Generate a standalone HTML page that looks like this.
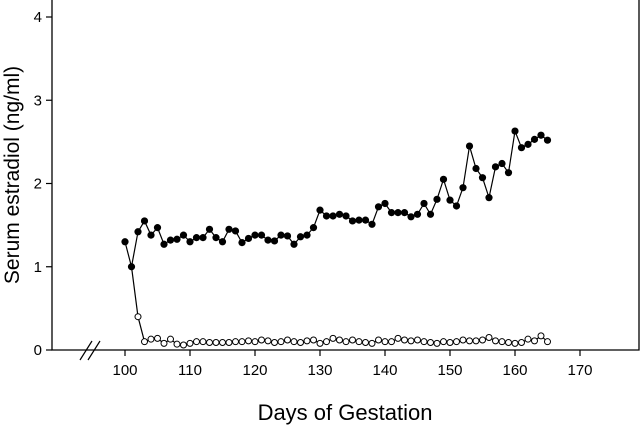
<!DOCTYPE html>
<html><head><meta charset="utf-8"><style>
body{margin:0;background:#fff}
svg{display:block;font-family:"Liberation Sans",Arial,sans-serif}
</style></head><body>
<svg id="chart" width="640" height="426" viewBox="0 0 640 426">
<g id="axes"></g>
<g id="series"></g>
<text x="345" y="420" font-size="22" text-anchor="middle">Days of Gestation</text>
<text transform="translate(19,175) rotate(-90)" font-size="21" text-anchor="middle">Serum estradiol (ng/ml)</text>
</svg>
<script>
const filledDays = [100,101,102,103,104,105,106,107,108,109,110,111,112,113,114,115,116,117,118,119,120,121,122,123,124,125,126,127,128,129,130,131,132,133,134,135,136,137,138,139,140,141,142,143,144,145,146,147,148,149,150,151,152,153,154,155,156,157,158,159,160,161,162,163,164,165];
const filledValues = [1.30,1.00,1.42,1.55,1.38,1.47,1.27,1.32,1.33,1.38,1.30,1.35,1.35,1.45,1.35,1.30,1.45,1.43,1.29,1.34,1.38,1.38,1.32,1.31,1.38,1.37,1.27,1.36,1.38,1.47,1.68,1.61,1.61,1.63,1.61,1.55,1.56,1.56,1.51,1.72,1.76,1.65,1.65,1.65,1.60,1.63,1.76,1.63,1.81,2.05,1.80,1.73,1.95,2.45,2.18,2.07,1.83,2.20,2.24,2.13,2.63,2.43,2.47,2.53,2.58,2.52];
const openDays = [102,103,104,105,106,107,108,109,110,111,112,113,114,115,116,117,118,119,120,121,122,123,124,125,126,127,128,129,130,131,132,133,134,135,136,137,138,139,140,141,142,143,144,145,146,147,148,149,150,151,152,153,154,155,156,157,158,159,160,161,162,163,164,165];
const openValues = [0.40,0.10,0.13,0.14,0.08,0.13,0.07,0.06,0.08,0.10,0.10,0.09,0.09,0.09,0.09,0.10,0.10,0.11,0.10,0.12,0.11,0.09,0.10,0.12,0.10,0.09,0.11,0.12,0.08,0.10,0.14,0.12,0.10,0.12,0.10,0.09,0.08,0.12,0.10,0.10,0.14,0.12,0.11,0.12,0.10,0.09,0.08,0.10,0.09,0.10,0.12,0.11,0.11,0.12,0.15,0.11,0.10,0.09,0.08,0.09,0.13,0.11,0.17,0.10,0.13];
const xTicks = [100,110,120,130,140,150,160,170];
const yTicks = [0,1,2,3,4];
const NS="http://www.w3.org/2000/svg";
const xs = d => 125 + (d-100)*6.5;
const ys = v => 350 - v*83.25;
function mk(tag, attrs, parent){const e=document.createElementNS(NS,tag);for(const k in attrs)e.setAttribute(k,attrs[k]);parent.appendChild(e);return e;}
const axes=document.getElementById('axes'), ser=document.getElementById('series');
let e;
e=mk('path',{d:'M52,0 V350 H639 V0',fill:'none',stroke:'#000','stroke-width':1.3},axes);


e=mk('path',{d:'M80,360 L92,341 M88,360 L100,341',fill:'none',stroke:'#000','stroke-width':1.2},axes);


xTicks.forEach(t=>{
  const l=mk('line',{x1:xs(t),x2:xs(t),y1:350,y2:356,stroke:'#000','stroke-width':1.2},axes);
  
  
  const tx=mk('text',{x:xs(t),y:375,'font-size':15,'text-anchor':'middle'},axes);tx.textContent=t;
  
  
});
yTicks.forEach(t=>{
  const l=mk('line',{x1:46,x2:52,y1:ys(t),y2:ys(t),stroke:'#000','stroke-width':1.2},axes);
  
  
  const tx=mk('text',{x:42,y:ys(t)+5,'font-size':15,'text-anchor':'end'},axes);tx.textContent=t;
  
  
});
// connecting line from filled day 101 to open series
const p1=filledDays.map((d,i)=>xs(d)+','+ys(filledValues[i]));
const p2=[xs(filledDays[1])+','+ys(filledValues[1])].concat(openDays.map((d,i)=>xs(d)+','+ys(openValues[i])));
e=mk('polyline',{points:p2.join(' '),fill:'none',stroke:'#000','stroke-width':1.2},ser);


e=mk('polyline',{points:p1.join(' '),fill:'none',stroke:'#000','stroke-width':1.2},ser);


openDays.forEach((d,i)=>{
  const c=mk('circle',{cx:xs(d),cy:ys(openValues[i]),r:3,fill:'#fff',stroke:'#000','stroke-width':1},ser);
  
  
});
filledDays.forEach((d,i)=>{
  const c=mk('circle',{cx:xs(d),cy:ys(filledValues[i]),r:3.6,fill:'#000'},ser);
  
  
});
</script>
</body></html>
